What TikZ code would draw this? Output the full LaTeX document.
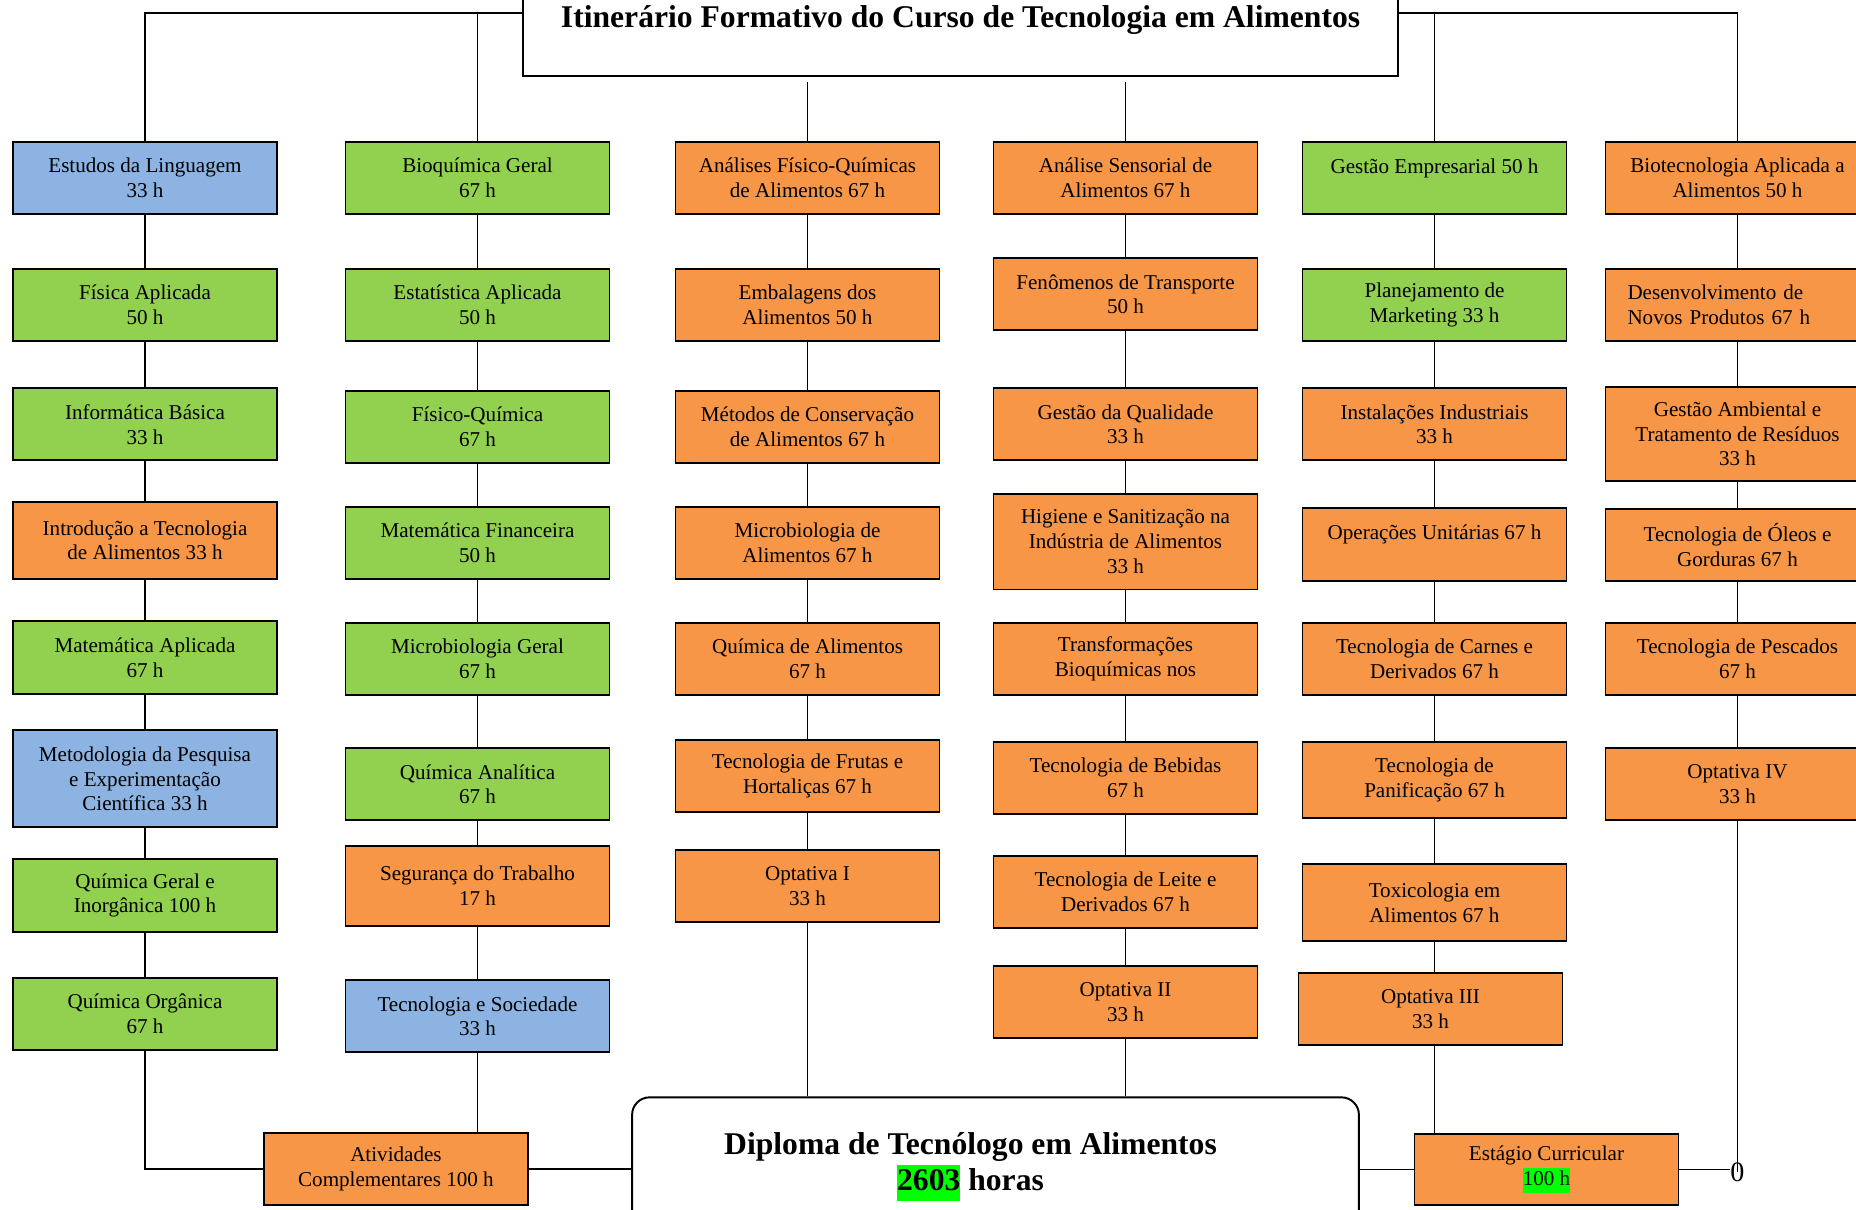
\documentclass[tikz,border=0pt]{standalone}
\usepackage{fontspec}
\setmainfont{Liberation Serif}

\definecolor{verdeCx}{HTML}{92D050}
\definecolor{laranjaCx}{HTML}{F79646}
\definecolor{azulCx}{HTML}{8DB3E2}
\definecolor{marcaVerde}{HTML}{00FF00}
\setlength{\fboxsep}{0pt}
\newcommand{\marca}[1]{\colorbox{marcaVerde}{\strut #1}}

\tikzset{
  disciplina/.style={draw, line width=1.1pt, minimum width=5.28cm, minimum height=1.444cm,
    align=center, inner sep=0pt, font=\fontsize{12}{14.1}\selectfont},
  verde/.style={disciplina, fill=verdeCx},
  laranja/.style={disciplina, fill=laranjaCx},
  azul/.style={disciplina, fill=azulCx},
  ligacao/.style={line width=0.85pt},
}

\begin{document}
\begin{tikzpicture}
\useasboundingbox (0,0) rectangle (37.12,-24.18);

% Title box
\node (titulo) [draw, line width=1.1pt, minimum width=17.495cm, minimum height=2.215cm,
  font=\fontsize{18}{20.2}\selectfont\bfseries] at (19.2115,-0.4075)
  {Itinerário Formativo do Curso de Tecnologia em Alimentos};
\coordinate (barraA) at (0,-0.26);
\coordinate (barraB) at (0,-1.633);

% Column 1
\node (estudos) [azul] at (2.90,-3.563) {Estudos da Linguagem\\33 h};
\node (fisica) [verde] at (2.90,-6.096) {Física Aplicada\\50 h};
\node (informatica) [verde] at (2.90,-8.487) {Informática Básica\\33 h};
\node (intro) [laranja, minimum height=1.539cm] at (2.90,-10.807) {Introdução a Tecnologia\\de Alimentos 33 h};
\node (matapl) [verde] at (2.90,-13.151) {Matemática Aplicada\\67 h};
\node (metodologia) [azul, minimum height=1.941cm] at (2.90,-15.577) {Metodologia da Pesquisa\\e Experimentação\\Científica 33 h};
\node (qgeral) [verde] at (2.90,-17.910) {Química Geral e\\Inorgânica 100 h};
\node (qorg) [verde] at (2.90,-20.277) {Química Orgânica\\67 h};

% Column 2
\node (bioq) [verde] at (9.55,-3.563) {Bioquímica Geral\\67 h};
\node (estat) [verde] at (9.55,-6.096) {Estatística Aplicada\\50 h};
\node (fisqui) [verde] at (9.55,-8.534) {Físico-Química\\67 h};
\node (matfin) [verde] at (9.55,-10.855) {Matemática Financeira\\50 h};
\node (microg) [verde] at (9.55,-13.175) {Microbiologia Geral\\67 h};
\node (qanal) [verde] at (9.55,-15.684) {Química Analítica\\67 h};
\node (seguranca) [laranja, minimum height=1.586cm] at (9.55,-17.720) {Segurança do Trabalho\\17 h};
\node (tecsoc) [azul] at (9.55,-20.324) {Tecnologia e Sociedade\\33 h};

% Column 3
\node (analises) [laranja] at (16.15,-3.563) {Análises Físico-Químicas\\de Alimentos 67 h};
\node (embal) [laranja] at (16.15,-6.096) {Embalagens dos\\Alimentos 50 h};
\node (metodos) [laranja] at (16.15,-8.534) {Métodos de Conservação\\de Alimentos 67 h};
\node (microal) [laranja] at (16.15,-10.855) {Microbiologia de\\Alimentos 67 h};
\node (qalim) [laranja] at (16.15,-13.175) {Química de Alimentos\\67 h};
\node (frutas) [laranja] at (16.15,-15.518) {Tecnologia de Frutas e\\Hortaliças 67 h};
\node (opt1) [laranja] at (16.15,-17.720) {Optativa I\\33 h};

% Column 4
\node (sensorial) [laranja] at (22.51,-3.563) {Análise Sensorial de\\Alimentos 67 h};
\node (fenomenos) [laranja] at (22.51,-5.883) {Fenômenos de Transporte\\50 h};
\node (gqual) [laranja] at (22.51,-8.487) {Gestão da Qualidade\\33 h};
\node (higiene) [laranja, minimum height=1.918cm] at (22.51,-10.831) {Higiene e Sanitização na\\Indústria de Alimentos\\33 h};
\node (transf) [laranja] at (22.51,-13.175) {Transformações\\Bioquímicas nos};
\node (bebidas) [laranja] at (22.51,-15.554) {Tecnologia de Bebidas\\67 h};
\node (leite) [laranja] at (22.51,-17.838) {Tecnologia de Leite e\\Derivados 67 h};
\node (opt2) [laranja] at (22.51,-20.040) {Optativa II\\33 h};

% Column 5
\node (gempr) [verde] at (28.69,-3.563) {Gestão Empresarial 50 h\\\mbox{}};
\node (marketing) [verde] at (28.69,-6.096) {Planejamento de\\Marketing 33 h};
\node (instal) [laranja] at (28.69,-8.487) {Instalações Industriais\\33 h};
\node (operacoes) [laranja] at (28.69,-10.890) {Operações Unitárias 67 h\\\mbox{}};
\node (carnes) [laranja] at (28.69,-13.175) {Tecnologia de Carnes e\\Derivados 67 h};
\node (panif) [laranja, minimum height=1.515cm] at (28.69,-15.601) {Tecnologia de\\Panificação 67 h};
\node (toxico) [laranja, minimum height=1.539cm] at (28.69,-18.051) {Toxicologia em\\Alimentos 67 h};
\node (opt3) [laranja] at (28.61,-20.182) {Optativa III\\33 h};

% Column 6
\node (biotec) [laranja] at (34.75,-3.563) {Biotecnologia Aplicada a\\Alimentos 50 h};
\node (desenv) [laranja, text width=4.4cm, align=left] at (34.75,-6.096) {Desenvolvimento de\\Novos Produtos 67 h};
\node (gamb) [laranja, minimum height=1.870cm] at (34.75,-8.677) {Gestão Ambiental e\\Tratamento de Resíduos\\33 h};
\node (oleos) [laranja] at (34.75,-10.902) {Tecnologia de Óleos e\\Gorduras 67 h};
\node (pescados) [laranja] at (34.75,-13.175) {Tecnologia de Pescados\\67 h};
\node (opt4) [laranja] at (34.75,-15.684) {Optativa IV\\33 h};

% Bottom row
\node (ativ) [laranja] at (7.919,-23.378) {Atividades\\Complementares 100 h};
\node (estagio) [laranja, minimum height=1.42cm] at (30.93,-23.390) {Estágio Curricular\\\marca{100 h}};
\node (diploma) [draw, line width=1.1pt, rounded corners=0.35cm, minimum width=14.536cm,
  minimum height=2.78cm, align=center, font=\fontsize{18}{20.2}\selectfont\bfseries] at (19.91,-23.336)
  {Diploma de Tecnólogo em Alimentos\hspace*{1cm}\\\marca{2603} horas\hspace*{1cm}};
\node (zero) [inner sep=0pt, font=\fontsize{16}{20}\selectfont] at (34.75,-23.44) {0};

% Lines from the title
\draw [ligacao] (estudos.north) |- (titulo.west |- barraA);
\draw [ligacao] (bioq.north) -- (bioq.north |- barraA);
\draw [ligacao] (biotec.north) |- (titulo.east |- barraA);
\draw [ligacao] (gempr.north) -- (gempr.north |- barraA);
\draw [ligacao] (analises.north) -- (analises.north |- barraB);
\draw [ligacao] (sensorial.north) -- (sensorial.north |- barraB);

% Lines inside the columns
\draw [ligacao] (estudos) -- (fisica) (fisica) -- (informatica) (informatica) -- (intro)
  (intro) -- (matapl) (matapl) -- (metodologia) (metodologia) -- (qgeral) (qgeral) -- (qorg);
\draw [ligacao] (bioq) -- (estat) (estat) -- (fisqui) (fisqui) -- (matfin)
  (matfin) -- (microg) (microg) -- (qanal) (qanal) -- (seguranca) (seguranca) -- (tecsoc);
\draw [ligacao] (analises) -- (embal) (embal) -- (metodos) (metodos) -- (microal)
  (microal) -- (qalim) (qalim) -- (frutas) (frutas) -- (opt1);
\draw [ligacao] (sensorial) -- (fenomenos) (fenomenos) -- (gqual) (gqual) -- (higiene)
  (higiene) -- (transf) (transf) -- (bebidas) (bebidas) -- (leite) (leite) -- (opt2);
\draw [ligacao] (gempr) -- (marketing) (marketing) -- (instal) (instal) -- (operacoes)
  (operacoes) -- (carnes) (carnes) -- (panif) (panif) -- (toxico);
\draw [ligacao] (toxico.south) -- (toxico.south |- opt3.north);
\draw [ligacao] (biotec) -- (desenv) (desenv) -- (gamb) (gamb) -- (oleos)
  (oleos) -- (pescados) (pescados) -- (opt4);

% Lines to the bottom row
\draw [ligacao] (qorg.south) |- (ativ.west);
\draw [ligacao] (tecsoc.south) -- (tecsoc.south |- ativ.north);
\draw [ligacao] (ativ.east) -- (diploma.west |- ativ.east);
\draw [ligacao] (opt1.south) -- (opt1.south |- diploma.north);
\draw [ligacao] (opt2.south) -- (opt2.south |- diploma.north);
\draw [ligacao] (toxico.south |- opt3.south) -- (toxico.south |- estagio.north);
\draw [ligacao] (diploma.east |- estagio.west) -- (estagio.west);
\draw [ligacao] (estagio.east) -- (estagio.east -| zero.west);
\draw [ligacao] (opt4.south) -- (zero.center);
\end{tikzpicture}
\end{document}
